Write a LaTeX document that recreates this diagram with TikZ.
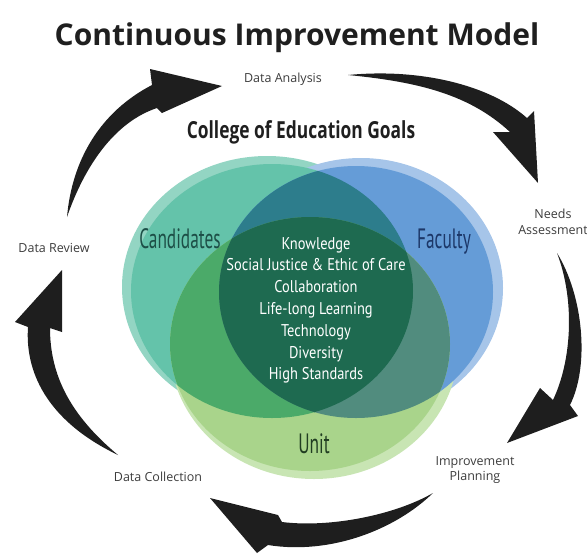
\documentclass[tikz,border=0pt]{standalone}
\usepackage{fontspec}
\setmainfont{Open Sans}
\newfontfamily\goalfont{PT Sans}
\usetikzlibrary{positioning}

\definecolor{candcol}{HTML}{64C3AA}
\definecolor{candlight}{HTML}{93D5C3}
\definecolor{faccol}{HTML}{659CD7}
\definecolor{faclight}{HTML}{A6C5E9}
\definecolor{unitcol}{HTML}{A9D48B}
\definecolor{unitlight}{HTML}{C8E5B3}
\definecolor{cfcol}{HTML}{2D7D8C}
\definecolor{cucol}{HTML}{4BAA69}
\definecolor{fucol}{HTML}{518C7E}
\definecolor{allcol}{HTML}{1E6A50}
\definecolor{candtext}{HTML}{1D4F47}
\definecolor{factext}{HTML}{1C3768}
\definecolor{unittext}{HTML}{213D22}
\definecolor{labelgrey}{HTML}{3C3C3C}
\definecolor{arrowblack}{HTML}{1E1E1E}

\begin{document}
\begin{tikzpicture}[x=1pt, y=-1pt,
    every node/.style={inner sep=0pt, outer sep=0pt},
    stagelabel/.style={font=\fontsize{12.5}{15.5}\selectfont, text=labelgrey, align=center},
    setname/.style={anchor=base, font=\goalfont\fontsize{28}{30}\selectfont},
    goaltext/.style={anchor=base, text=white, font=\goalfont\fontsize{17}{20}\selectfont},
    cyclearrow/.style={fill=arrowblack},
    candmain/.style={x radius=141, y radius=127},
    facmain/.style={x radius=137, y radius=126},
    unitmain/.style={x radius=140, y radius=127}]

\useasboundingbox (0,0) rectangle (587,555);

% Title
\node[anchor=base, font=\bfseries\fontsize{30}{34}\selectfont, text=black!88] (title) at (297,45) {Continuous Improvement Model};

% Lighter brush edges of the three sets
\fill[candlight] (267,287) ellipse [x radius=145, y radius=131];
\fill[faclight] (361,288) ellipse [x radius=142, y radius=130];
\fill[unitlight] (314,348) ellipse [x radius=144, y radius=131];

% The three sets
\coordinate (c) at (272,291);
\coordinate (f) at (356,292);
\coordinate (u) at (310,344);
\fill[candcol] (c) ellipse [candmain];
\fill[faccol] (f) ellipse [facmain];
\fill[unitcol] (u) ellipse [unitmain];

% Overlaps
\begin{scope}
    \clip (c) ellipse [candmain];
    \fill[cfcol] (f) ellipse [facmain];
    \fill[cucol] (u) ellipse [unitmain];
\end{scope}
\begin{scope}
    \clip (f) ellipse [facmain];
    \fill[fucol] (u) ellipse [unitmain];
\end{scope}
\begin{scope}
    \clip (c) ellipse [candmain];
    \clip (f) ellipse [facmain];
    \fill[allcol] (u) ellipse [unitmain];
\end{scope}

% Set names
\node[anchor=base, font=\bfseries\fontsize{23.5}{26}\selectfont, text=black!88] (goals) at (301,138) {\scalebox{0.74}[1]{College of Education Goals}};
\node[setname, text=candtext] (cand) at (180,248) {\scalebox{0.62}[1]{Candidates}};
\node[setname, text=factext] (fac) at (444,248) {\scalebox{0.62}[1]{Faculty}};
\node[setname, text=unittext] (unit) at (314,453) {\scalebox{0.62}[1]{Unit}};

% Goals in the middle
\foreach \goal [count=\i from 0] in {Knowledge, Social Justice \& Ethic of Care, Collaboration, Life-long Learning, Technology, Diversity, High Standards} {
    \node[goaltext] (goal\i) at (316,249+21.8*\i) {\scalebox{0.85}[1]{\goal}};
}

% Stages of the cycle
\node[stagelabel] (analysis) at (283,79) {Data Analysis};
\node[stagelabel] (needs) at (553,222) {Needs\\Assessment};
\node[stagelabel] (improve) at (475,470) {Improvement\\Planning};
\node[stagelabel] (collect) at (158,477) {Data Collection};
\node[stagelabel] (review) at (54,248) {Data Review};

% Arrow ends
\coordinate (rev-out) at (67,217);
\coordinate (ana-in) at (222,86);
\coordinate (ana-out) at (348,75);
\coordinate (nee-in) at (538,183);
\coordinate (nee-out) at (557,253);
\coordinate (imp-in) at (507,443);
\coordinate (imp-out) at (433,493);
\coordinate (col-in) at (210,498);
\coordinate (col-out) at (118,455);
\coordinate (rev-in) at (62,270);

% Cycle arrows
\fill[cyclearrow] (rev-out) .. controls (72,160) and (100,112) .. (152,85)
    -- (150,69) -- (ana-in) -- (162,113) -- (157,108)
    .. controls (115,122) and (85,165) .. cycle;
\fill[cyclearrow] (ana-out) .. controls (420,68) and (490,85) .. (527,118)
    -- (534,111) -- (nee-in) -- (493,132) -- (510,132)
    .. controls (470,95) and (420,82) .. cycle;
\fill[cyclearrow] (nee-out) .. controls (583,295) and (590,365) .. (570,405)
    -- (578,416) -- (imp-in) -- (540,388) -- (553,400)
    .. controls (572,360) and (575,300) .. cycle;
\fill[cyclearrow] (imp-out) .. controls (395,515) and (330,528) .. (282,522)
    -- (278,515) -- (col-in) -- (257,553) -- (268,545)
    .. controls (330,555) and (395,530) .. cycle;
\fill[cyclearrow] (col-out) .. controls (45,420) and (25,370) .. (28,327)
    -- (15,322) -- (rev-in) -- (62,332) -- (50,328)
    .. controls (50,375) and (70,415) .. cycle;

\end{tikzpicture}
\end{document}
